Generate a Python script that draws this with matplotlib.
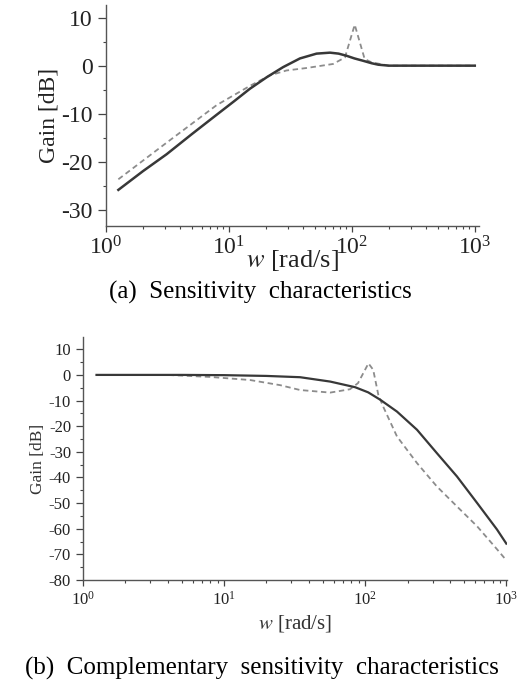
import numpy as np
import matplotlib.pyplot as plt
from matplotlib.ticker import MultipleLocator, LogLocator, LogFormatterSciNotation, NullFormatter

plt.rcParams['font.family'] = 'Liberation Serif'
plt.rcParams['mathtext.fontset'] = 'stix'
plt.rcParams['axes.unicode_minus'] = False

# (a) sensitivity
w_s_solid = [1.26, 2, 3.11, 5, 7.94, 11, 14.8, 20.3, 27.6, 37.8, 51.6, 66.4, 78, 90.6, 105, 124, 145, 164, 200, 300, 1000]
g_s_solid = [-25.8, -21.9, -18.4, -14.2, -10.2, -7.4, -4.8, -2.4, -0.3, 1.5, 2.5, 2.7, 2.5, 2.05, 1.5, 1.0, 0.5, 0.2, 0, 0, 0]
w_s_dash = [1.26, 3.11, 7.94, 14.8, 21.6, 29.4, 42.4, 70.3, 87.8, 105.5, 127, 144, 200, 1000]
g_s_dash = [-23.6, -16.0, -8.2, -4.2, -2.0, -1.0, -0.5, 0.35, 1.7, 8.5, 1.4, 0.7, 0, 0]

# (b) complementary sensitivity
w_t_solid = [1.25, 5, 10, 20, 34.6, 56.5, 84.9, 105, 128, 168, 233, 322, 447, 620, 859, 1000]
g_t_solid = [0, 0, -0.1, -0.4, -0.9, -2.6, -4.8, -6.8, -9.7, -14.3, -21.4, -30.5, -39.6, -49.9, -60.3, -65.8]
w_t_dash = [1.25, 3.9, 8, 15.3, 25, 34.6, 56.5, 78, 89, 105.5, 114, 124, 134, 168, 233, 322, 447, 620, 859, 1000]
g_t_dash = [0, 0, -0.8, -2, -4, -5.9, -6.9, -5.6, -3.2, 4.5, 2, -7.8, -12.3, -24, -34.4, -43.5, -51.3, -59, -68, -72.3]

solid_c = '#383838'
dash_c = '#8c8c8c'

fig = plt.figure(figsize=(5.21, 6.84), dpi=100)


def style_axes(ax, fs):
    ax.set_xscale('log')
    for s in ['top', 'right']:
        ax.spines[s].set_visible(False)
    for s in ['left', 'bottom']:
        ax.spines[s].set_color('#555555')
        ax.spines[s].set_linewidth(1.0)
    ax.xaxis.set_major_locator(LogLocator(base=10, numticks=10))
    ax.xaxis.set_major_formatter(LogFormatterSciNotation())
    ax.xaxis.set_minor_locator(LogLocator(base=10, subs=np.arange(2, 10), numticks=10))
    ax.xaxis.set_minor_formatter(NullFormatter())
    ax.tick_params(which='major', direction='out', length=4, width=0.9, colors='#444444', labelsize=fs,
                   labelcolor='#222222')
    ax.tick_params(which='minor', direction='out', length=2, width=0.8, colors='#444444')


# top panel
ax1 = fig.add_axes([0.2035, 0.6696, 0.7155, 0.3231])
ax1.plot(w_s_dash, g_s_dash, color=dash_c, lw=1.3, dashes=(3, 2))
ax1.plot(w_s_solid, g_s_solid, color=solid_c, lw=1.8)
style_axes(ax1, 17)
ax1.set_xlim(1, 1078)
ax1.set_ylim(-33.3, 12.6)
ax1.yaxis.set_major_locator(MultipleLocator(10))
ax1.yaxis.set_minor_locator(MultipleLocator(5))
ax1.tick_params(axis='y', which='major', length=6)
ax1.set_ylabel('Gain [dB]', fontsize=17, color='#222222', labelpad=1)
ax1.set_xlabel(r'$\mathit{w}$ [rad/s]', fontsize=19, color='#222222', labelpad=-8)
fig.text(0.5, 1 - 292 / 684, '(a)  Sensitivity  characteristics', ha='center', va='center', fontsize=18)

# bottom panel
ax2 = fig.add_axes([0.159, 0.152, 0.814, 0.355])
ax2.plot(w_t_dash, g_t_dash, color=dash_c, lw=1.3, dashes=(3, 2))
ax2.plot(w_t_solid, g_t_solid, color=solid_c, lw=1.6)
style_axes(ax2, 12)
ax2.set_xlim(1, 1010)
ax2.set_ylim(-80, 14.7)
ax2.yaxis.set_major_locator(MultipleLocator(10))
ax2.yaxis.set_minor_locator(MultipleLocator(5))
ax2.tick_params(axis='y', which='major', length=5)
ax2.set_ylabel('Gain [dB]', fontsize=12.5, color='#333333', labelpad=2)
ax2.set_xlabel(r'$\mathit{w}$ [rad/s]', fontsize=15, color='#333333', labelpad=3)
fig.text(0.503, 1 - 668 / 684, '(b)  Complementary  sensitivity  characteristics', ha='center', va='center',
         fontsize=18)

fig.savefig('out.png', dpi=100)
